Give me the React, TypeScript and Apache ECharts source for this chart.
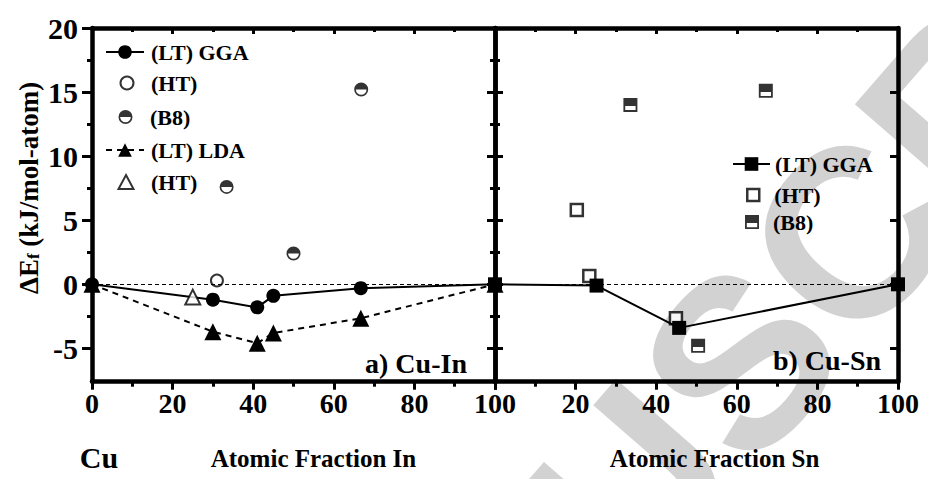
import { useEffect, useRef } from "react";
import * as echarts from "echarts";

// ---------- data ----------
const X_MIN = 0;
const X_MAX = 100;
const X_STEP = 20;
const Y_MIN = -7.6;
const Y_MAX = 20;
const Y_MAJOR = [-5, 0, 5, 10, 15, 20];
const Y_MINOR = [-2.5, 2.5, 7.5, 12.5, 17.5];

// Cu-In panel (x = atomic fraction In, %)
const inLtGga = [[0, 0], [30, -1.2], [41, -1.8], [45, -0.9], [66.7, -0.3], [100, 0]];
const inHtGga = [[31, 0.3]];
const inB8 = [[33.4, 7.6], [50, 2.4], [66.8, 15.2]];
const inLtLda = [[0, 0], [30, -3.7], [41, -4.6], [45, -3.8], [66.7, -2.65], [100, 0]];
const inHtLda = [[25, -1.0]];

// Cu-Sn panel (x = atomic fraction Sn, %)
const snLtGga = [[0, 0], [25.2, -0.1], [45.7, -3.4], [100, 0]];
const snHt = [[20.3, 5.8], [23.4, 0.65], [44.9, -2.65]];
const snB8 = [[33.6, 14.0], [67.2, 15.1], [50.4, -4.8]];

// ---------- styles ----------
const SERIF = "'Liberation Serif', 'Times New Roman', Times, 'DejaVu Serif', serif";
const SANS = "'Liberation Sans', Arial, sans-serif";
const BLACK = "#000";
const tickStyle = { color: BLACK, width: 3 };
const axisLineStyle = { show: true, onZero: false, lineStyle: { color: BLACK, width: 4.5 } };

const HALF_CIRCLE =
  "path://M0 50 A50 50 0 1 1 100 50 A50 50 0 1 1 0 50 Z M12 50 A38 38 0 1 0 88 50 A38 38 0 1 0 12 50 Z M12 50 A38 38 0 0 1 88 50 Z";
const HALF_SQUARE =
  "path://M0 0 L100 0 L100 100 L0 100 Z M13 13 L13 87 L87 87 L87 13 Z M13 13 L87 13 L87 58 L13 58 Z";

function xAxes(g: number, hideZero: boolean, name: string, namePad: number) {
  return [
    {
      type: "value",
      gridIndex: g,
      position: "bottom",
      min: X_MIN,
      max: X_MAX,
      interval: X_STEP,
      axisLine: axisLineStyle,
      axisTick: { show: true, inside: false, length: 8, lineStyle: tickStyle },
      minorTick: { show: true, splitNumber: 2, length: 5, lineStyle: tickStyle },
      splitLine: { show: false },
      minorSplitLine: { show: false },
      axisLabel: {
        show: true,
        margin: 8,
        color: BLACK,
        fontFamily: SERIF,
        fontWeight: "bold",
        fontSize: 28,
        showMinLabel: true,
        showMaxLabel: true,
        formatter: (v: number) => (hideZero && v === 0 ? "" : String(v)),
      },
      name,
      nameLocation: "middle",
      nameGap: 64,
      nameTextStyle: {
        color: BLACK,
        fontFamily: SERIF,
        fontWeight: "bold",
        fontSize: 25,
        padding: [0, 0, 0, namePad],
      },
    },
    {
      type: "value",
      gridIndex: g,
      position: "top",
      min: X_MIN,
      max: X_MAX,
      interval: X_STEP,
      axisLine: axisLineStyle,
      axisTick: { show: true, inside: true, length: 6, lineStyle: tickStyle },
      minorTick: { show: true, splitNumber: 2, length: 4, lineStyle: tickStyle },
      splitLine: { show: false },
      axisLabel: { show: false },
    },
  ];
}

function yAxes(g: number, first: boolean) {
  const base = {
    type: "value",
    gridIndex: g,
    min: Y_MIN,
    max: Y_MAX,
    splitLine: { show: false },
    minorTick: { show: false },
  };
  const leftMajor: any = {
    ...base,
    position: "left",
    axisLine: axisLineStyle,
    axisTick: { show: true, inside: !first, length: first ? 10 : 8, customValues: Y_MAJOR, lineStyle: tickStyle },
    axisLabel: first
      ? {
          show: true,
          customValues: Y_MAJOR,
          margin: 14,
          color: BLACK,
          fontFamily: SERIF,
          fontWeight: "bold",
          fontSize: 30,
        }
      : { show: false },
  };
  if (first) {
    leftMajor.name = "{a|ΔE}{s|f}{a| (kJ/mol-atom)}";
    leftMajor.nameLocation = "middle";
    leftMajor.nameRotate = 90;
    leftMajor.nameGap = 50;
    leftMajor.nameTextStyle = {
      color: BLACK,
      padding: [0, 0, 0, 34],
      rich: {
        a: { fontFamily: SERIF, fontWeight: "bold", fontSize: 27, lineHeight: 27, verticalAlign: "top", color: BLACK },
        s: {
          fontFamily: SERIF,
          fontWeight: "bold",
          fontSize: 17,
          lineHeight: 17,
          padding: [14, 0, 0, 0],
          verticalAlign: "bottom",
          color: BLACK,
        },
      },
    };
  }
  return [
    leftMajor,
    {
      ...base,
      position: "left",
      axisLine: { show: false },
      axisTick: { show: true, inside: !first, length: 5, customValues: Y_MINOR, lineStyle: tickStyle },
      axisLabel: { show: false },
    },
    {
      ...base,
      position: "right",
      axisLine: axisLineStyle,
      axisTick: { show: true, inside: true, length: 8, customValues: Y_MAJOR, lineStyle: tickStyle },
      axisLabel: { show: false },
    },
    {
      ...base,
      position: "right",
      axisLine: { show: false },
      axisTick: { show: true, inside: true, length: 5, customValues: Y_MINOR, lineStyle: tickStyle },
      axisLabel: { show: false },
    },
  ];
}

const zeroLine = {
  silent: true,
  symbol: ["none", "none"],
  label: { show: false },
  lineStyle: { color: BLACK, width: 1, type: [4, 3] },
  data: [{ yAxis: 0 }],
};

const legendFont = { fontFamily: SERIF, fontWeight: "bold", fontSize: 22, lineHeight: 22, color: BLACK };

function legendItem(name: string, left: number, cy: number, w: number, h: number, padLeft: number, extra: any = {}) {
  return {
    show: true,
    data: [name],
    left,
    top: cy - 11,
    orient: "vertical",
    padding: 0,
    itemGap: 0,
    itemWidth: w,
    itemHeight: h,
    selectedMode: false,
    formatter: (n: string) => n.trim(),
    textStyle: { ...legendFont, padding: [0, 0, 0, padLeft] },
    ...extra,
  };
}

const series: any[] = [
  // Cu-In
  {
    type: "line",
    name: "(LT) LDA",
    xAxisIndex: 0,
    yAxisIndex: 0,
    data: inLtLda,
    symbol: "triangle",
    symbolSize: 17,
    itemStyle: { color: BLACK },
    lineStyle: { color: BLACK, width: 2, type: [6, 5] },
    z: 2,
    markLine: zeroLine,
  },
  {
    type: "line",
    name: "(LT) GGA",
    xAxisIndex: 0,
    yAxisIndex: 0,
    data: inLtGga,
    symbol: "circle",
    symbolSize: 14,
    itemStyle: { color: BLACK },
    lineStyle: { color: BLACK, width: 2 },
    z: 3,
  },
  {
    type: "scatter",
    name: "(HT)",
    xAxisIndex: 0,
    yAxisIndex: 0,
    data: inHtGga,
    symbol: "circle",
    symbolSize: 12,
    itemStyle: { color: "#fff", borderColor: BLACK, borderWidth: 2 },
    z: 4,
  },
  {
    type: "scatter",
    name: "(B8)",
    xAxisIndex: 0,
    yAxisIndex: 0,
    data: inB8,
    symbol: HALF_CIRCLE,
    symbolSize: 14,
    itemStyle: { color: BLACK },
    z: 4,
  },
  {
    type: "scatter",
    name: "(HT) ",
    xAxisIndex: 0,
    yAxisIndex: 0,
    data: inHtLda,
    symbol: "triangle",
    symbolSize: 15,
    itemStyle: { color: "#fff", borderColor: BLACK, borderWidth: 2 },
    z: 4,
  },
  // Cu-Sn
  {
    type: "line",
    name: "(LT) GGA ",
    xAxisIndex: 2,
    yAxisIndex: 4,
    data: snLtGga,
    symbol: "rect",
    symbolSize: 14,
    itemStyle: { color: BLACK },
    lineStyle: { color: BLACK, width: 2 },
    z: 4,
    markLine: zeroLine,
  },
  {
    type: "scatter",
    name: "(HT)  ",
    xAxisIndex: 2,
    yAxisIndex: 4,
    data: snHt,
    symbol: "rect",
    symbolSize: 12,
    itemStyle: { color: "#fff", borderColor: BLACK, borderWidth: 2.5 },
    z: 3,
  },
  {
    type: "scatter",
    name: "(B8) ",
    xAxisIndex: 2,
    yAxisIndex: 4,
    data: snB8,
    symbol: HALF_SQUARE,
    symbolSize: 14,
    itemStyle: { color: BLACK },
    z: 4,
  },
];

const legends = [
  legendItem("(LT) GGA", 105, 52, 38, 17, 2),
  legendItem("(HT)", 119.5, 83, 13, 13, 12.5, { itemStyle: { borderWidth: 2, borderColor: BLACK, color: "#fff" } }),
  legendItem("(B8)", 118.5, 117, 14, 14, 12.5),
  legendItem("(LT) LDA", 105, 150, 38, 17, 2),
  legendItem("(HT) ", 117.5, 182, 15, 14, 12.5, { itemStyle: { borderWidth: 2, borderColor: BLACK, color: "#fff" } }),
  legendItem("(LT) GGA ", 732, 164, 37, 17, 0),
  legendItem("(HT)  ", 746, 195, 12, 12, 10, { itemStyle: { borderWidth: 2.5, borderColor: BLACK, color: "#fff" } }),
  legendItem("(B8) ", 745, 222, 14, 14, 9),
];

const WM_ROT = (49 * Math.PI) / 180;
const WM_OFFSET = 2110;

const option: any = {
  animation: false,
  backgroundColor: "#fff",
  textStyle: { fontFamily: SERIF, fontWeight: "bold", color: BLACK },
  grid: [
    { left: 92, top: 28, width: 403, height: 353.7, outerBoundsMode: "none", containLabel: false },
    { left: 495, top: 28, width: 403, height: 353.7, outerBoundsMode: "none", containLabel: false },
  ],
  xAxis: [...xAxes(0, false, "Atomic Fraction In", 40), ...xAxes(1, true, "Atomic Fraction Sn", 36)],
  yAxis: [...yAxes(0, true), ...yAxes(1, false)],
  legend: legends,
  series,
  graphic: [
    {
      type: "text",
      x: 690 - WM_OFFSET * Math.cos(WM_ROT),
      y: 420 + WM_OFFSET * Math.sin(WM_ROT),
      rotation: WM_ROT,
      z: -10,
      silent: true,
      style: {
        text: "ACCEPTED MANUSCRIPT",
        fill: "#d2d2d2",
        fontFamily: SANS,
        fontWeight: "bold",
        fontSize: 240,
        align: "left",
        verticalAlign: "middle",
      },
    },
    {
      type: "text",
      x: 99,
      y: 457,
      z: 10,
      style: { text: "Cu", fill: BLACK, fontFamily: SERIF, fontWeight: "bold", fontSize: 30, align: "center", verticalAlign: "middle" },
    },
    {
      type: "text",
      x: 416,
      y: 363,
      z: 10,
      style: { text: "a) Cu-In", fill: BLACK, fontFamily: SERIF, fontWeight: "bold", fontSize: 28, align: "center", verticalAlign: "middle" },
    },
    {
      type: "text",
      x: 827,
      y: 360,
      z: 10,
      style: { text: "b) Cu-Sn", fill: BLACK, fontFamily: SERIF, fontWeight: "bold", fontSize: 28, align: "center", verticalAlign: "middle" },
    },
  ],
};

export default function App() {
  const ref = useRef<HTMLDivElement>(null);
  useEffect(() => {
    document.body.style.margin = "0";
    const chart = echarts.init(ref.current!, null, { renderer: "svg" });
    chart.setOption(option);
    return () => chart.dispose();
  }, []);
  return <div ref={ref} style={{ width: 928, height: 479 }} />;
}
